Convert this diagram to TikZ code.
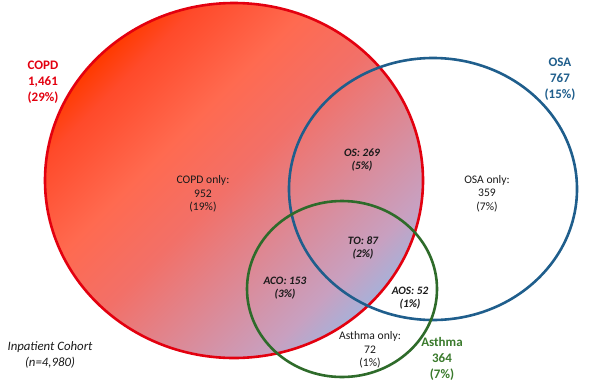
\documentclass[tikz,border=0pt]{standalone}
\usepackage{fontspec}
\setmainfont{Carlito}
\definecolor{copdred}{HTML}{E3000F}
\definecolor{osablue}{HTML}{1F5E8C}
\definecolor{asgreen}{HTML}{2E6B2A}
\definecolor{asgreentxt}{HTML}{3A7A2C}
\definecolor{sA}{HTML}{FF3A00}
\definecolor{sB}{HTML}{FF4A2A}
\definecolor{sC}{HTML}{FF6A50}
\definecolor{sD}{HTML}{F27068}
\definecolor{sE}{HTML}{C8A0C0}
\definecolor{sF}{HTML}{A8B0D8}
\definecolor{txt}{HTML}{1A1A1A}
\pgfdeclareverticalshading{venngrad}{100bp}{color(0bp)=(sF); color(25bp)=(sF); color(30bp)=(sE); color(50bp)=(sD); color(59.6bp)=(sC); color(70.5bp)=(sB); color(75bp)=(sA); color(100bp)=(sA)}
\begin{document}
\begin{tikzpicture}[x=1pt,y=-1pt,
  lbl/.style={align=center,font=\fontsize{11.6}{13.5}\selectfont,text=txt,inner sep=0pt},
  ilbl/.style={lbl,font=\fontsize{11.3}{13.5}\selectfont\bfseries\itshape},
  head/.style={align=center,font=\fontsize{13}{15.8}\selectfont\bfseries,inner sep=0pt},
  ring/.style={line width=2.6pt}]
\useasboundingbox (0,0) rectangle (597,381);
% COPD ellipse filled with gradient
\shade[shading=venngrad, shading angle=45]
  (234,180.5) ellipse [x radius=189, y radius=177.5];
\draw[ring,copdred] (234,180.5) ellipse [x radius=189, y radius=177.5];
% OSA
\draw[ring,osablue] (433,189) ellipse [x radius=144, y radius=131];
% Asthma
\draw[ring,asgreen] (342,289) ellipse [x radius=95, y radius=88];
% headings
\node[head,text=copdred] (hcopd) at (43,82) {COPD\\1,461\\(29\%)};
\node[head,text=osablue] (hosa) at (560,79) {OSA\\767\\(15\%)};
\node[head,text=asgreentxt] (hasth) at (442,359) {Asthma\\364\\(7\%)};
% region labels
\node[lbl] (copdonly) at (203,194) {COPD only:\\952\\(19\%)};
\node[lbl] (osaonly) at (487,193.5) {OSA only:\\359\\(7\%)};
\node[lbl] (asonly) at (370,350) {Asthma only:\\72\\(1\%)};
\node[ilbl] (os) at (362,160) {OS: 269\\(5\%)};
\node[ilbl] (to) at (363,248) {TO: 87\\(2\%)};
\node[ilbl] (aco) at (285,288) {ACO: 153\\(3\%)};
\node[ilbl] (aos) at (410,298) {AOS: 52\\(1\%)};
\node[lbl,font=\fontsize{12.8}{16}\selectfont\itshape] (cohort) at (50,355) {Inpatient Cohort\\(n=4,980)};
\end{tikzpicture}
\end{document}
